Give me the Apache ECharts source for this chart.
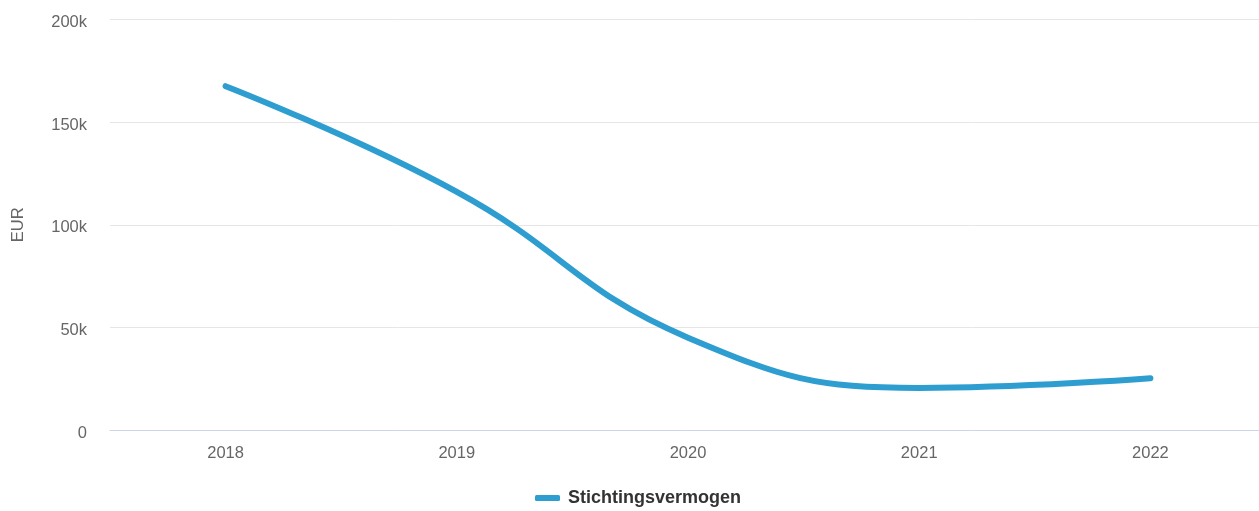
<!DOCTYPE html>
<html>
<head>
<meta charset="utf-8">
<script src="https://cdn.jsdelivr.net/npm/echarts@6/dist/echarts.min.js"></script>
<style>
html,body{margin:0;padding:0;background:#fff;}
#chart{width:1259px;height:511px;}
</style>
</head>
<body>
<div id="chart"></div>
<script>
const categories = ['2018', '2019', '2020', '2021', '2022'];
const stichtingsvermogen = [167500, 116000, 45000, 20500, 25200];
const yTicks = [0, 50000, 100000, 150000, 200000];
const seriesName = 'Stichtingsvermogen';
const yAxisName = 'EUR';

const chart = echarts.init(document.getElementById('chart'));
chart.setOption({
  animation: false,
  backgroundColor: '#ffffff',
  textStyle: { fontFamily: 'Liberation Sans, Arial, sans-serif' },
  grid: { left: 110, width: 1156, top: 19.5, bottom: 81, containLabel: false, outerBoundsMode: 'none' },
  legend: {
    top: 484,
    left: 530,
    itemWidth: 25,
    itemHeight: 6,
    itemGap: 20,
    icon: 'roundRect',
    textStyle: { fontSize: 18, fontWeight: 'bold', color: '#333333', fontFamily: 'Liberation Sans, Arial, sans-serif', padding: [0, 0, 0, 3] },
    data: [seriesName]
  },
  xAxis: {
    type: 'category',
    data: categories,
    boundaryGap: true,
    axisLine: { show: true, lineStyle: { color: '#ccd6eb', width: 1 } },
    axisTick: { show: false },
    axisLabel: { color: '#666666', fontSize: 16.5, margin: 15 }
  },
  yAxis: {
    type: 'value',
    min: yTicks[0],
    max: yTicks[yTicks.length - 1],
    interval: 50000,
    name: yAxisName,
    nameLocation: 'middle',
    nameRotate: 90,
    nameGap: 83,
    nameTextStyle: { color: '#666666', fontSize: 16.5 },
    axisLine: { show: false },
    axisTick: { show: false },
    splitLine: { lineStyle: { color: '#e6e6e6', width: 1 } },
    axisLabel: {
      color: '#666666',
      fontSize: 16.5,
      margin: 23,
      verticalAlign: 'top',
      lineHeight: 6,
      formatter: v => v === 0 ? '0' : (v / 1000) + 'k'
    }
  },
  series: [{
    name: seriesName,
    type: 'line',
    data: stichtingsvermogen,
    smooth: 0.45,
    showSymbol: false,
    symbol: 'none',
    lineStyle: { color: '#2e9dd0', width: 6, cap: 'round', join: 'round' },
    itemStyle: { color: '#2e9dd0' }
  }]
});
</script>
</body>
</html>
